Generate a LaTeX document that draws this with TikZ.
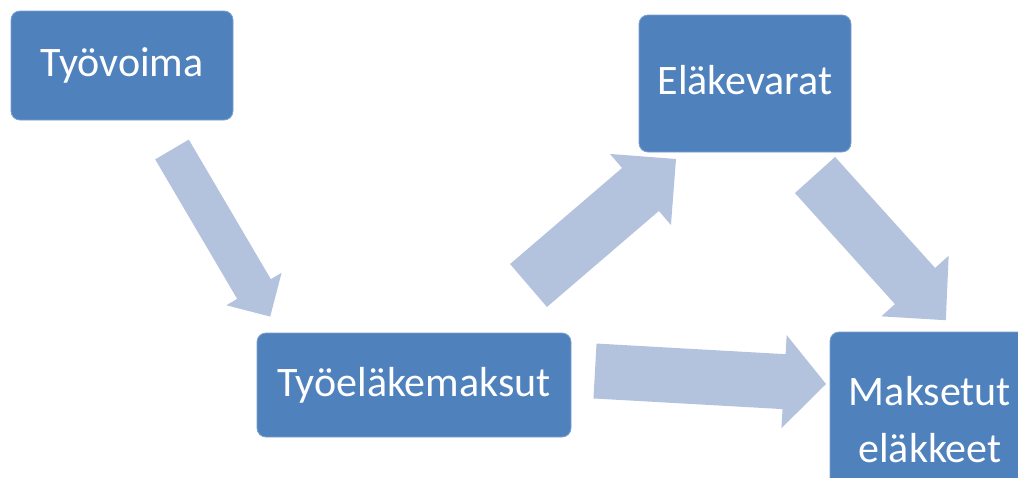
\documentclass[tikz,border=0pt]{standalone}
\usepackage{fontspec}
\setmainfont{Carlito}
\usetikzlibrary{calc}
\definecolor{boxblue}{HTML}{4F81BD}
\definecolor{arrowblue}{HTML}{B3C2DD}
\tikzset{
  box/.style={rectangle, rounded corners=9pt, fill=boxblue, draw=boxblue!75!white, line width=0.8pt,
    text=white, font=\fontsize{42}{57}\selectfont, inner sep=0pt,
    text height=30pt, text depth=8pt},
  boxtext/.style={text=white, font=\fontsize{42}{57}\selectfont, inner sep=0pt, align=center},
  arrowfill/.style={fill=arrowblue, draw=none}
}
% name, tail, tip, shaft half width, head half width, head length
\newcommand{\blockarrow}[6]{%
  \coordinate (#1b) at ($(#3)!#6!(#2)$);
  \fill[arrowfill] ($(#2)!#4!90:(#3)$) -- ($(#1b)!#4!90:(#3)$) -- ($(#1b)!#5!90:(#3)$)
    -- (#3) -- ($(#1b)!#5!-90:(#3)$) -- ($(#1b)!#4!-90:(#3)$) -- ($(#2)!#4!-90:(#3)$) -- cycle;
}
\begin{document}
\begin{tikzpicture}[x=1pt,y=-1pt]
\useasboundingbox (0,0) rectangle (1018,477);
\clip (0,0) rectangle (1018,477);
% boxes
\node[box, minimum width=222pt, minimum height=109pt] (tyovoima) at (122,65.5) {Työvoima};
\node[box, minimum width=212pt, minimum height=137pt] (varat) at (745,83.5) {Eläkevarat};
\node[box, minimum width=314pt, minimum height=104pt] (maksut) at (414,385) {Työeläkemaksut};
\node[box, minimum width=202pt, minimum height=158pt] (maksetut) at (931,411) {};
\node[boxtext] (maksetuttext) at (930,420) {Maksetut\\eläkkeet};
% arrows
\coordinate (a1t) at (172,149.5);  \coordinate (a1p) at (270.2,316.6);
\coordinate (a2t) at (528.5,285.5); \coordinate (a2p) at (676,159);
\coordinate (a3t) at (815,175);    \coordinate (a3p) at (945.8,320.2);
\coordinate (a4t) at (595,371);    \coordinate (a4p) at (826,384);
\blockarrow{a1}{a1t}{a1p}{19.5pt}{32pt}{32pt}
\blockarrow{a2}{a2t}{a2p}{28.3pt}{46.8pt}{46.8pt}
\blockarrow{a3}{a3t}{a3p}{27pt}{45.3pt}{46pt}
\blockarrow{a4}{a4t}{a4p}{27.5pt}{46.6pt}{42pt}
\end{tikzpicture}
\end{document}
